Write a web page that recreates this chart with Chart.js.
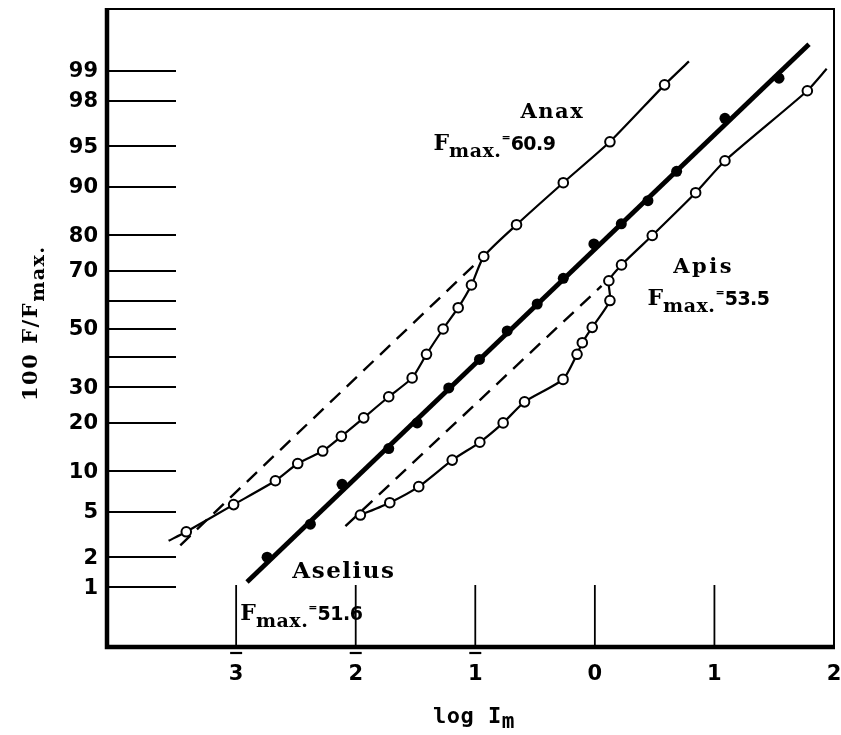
<!DOCTYPE html>
<html>
<head>
<meta charset="utf-8">
<script src="https://cdn.jsdelivr.net/npm/chart.js@4.4.1/dist/chart.umd.min.js"></script>
<style>
  html, body { margin:0; padding:0; background:#fff; }
</style>
</head>
<body>
<canvas id="c" width="841" height="735"></canvas>
<script>
/* ---------- axes ---------- */
const yTicks      = [1, 2, 5, 10, 20, 30, 40, 50, 60, 70, 80, 90, 95, 98, 99];
const yTickLabels = ["1","2","5","10","20","30","","50","","70","80","90","95","98","99"];
const xTicks      = [-3, -2, -1, 0, 1, 2];
const xTickLabels = ["3", "2", "1", "0", "1", "2"];   // negatives get a bar on top
const xTickLines  = [-3, -2, -1, 0, 1];

/* ---------- Anax (open circles) ---------- */
const anaxX = [-3.417,-3.021,-2.672,-2.485,-2.276,-2.120,-1.933,-1.724,-1.528,-1.408,-1.269,-1.143,-1.032,-0.929,-0.655,-0.264,0.126,0.583];
const anaxP = [3.4, 5.7, 8.6, 11.3, 13.6, 16.7, 21.2, 27.1, 33.0, 41.0, 50.0, 57.6, 65.4, 74.3, 82.6, 90.6, 95.4, 98.6];
const anaxEndX = [-3.565, 0.787];
const anaxEndP = [2.83, 99.2];
const anaxDashX = [-3.467, -0.982];
const anaxDashP = [2.58, 72.7];

/* ---------- Asellus (filled circles, fitted line) ---------- */
const aseliusX = [-2.741,-2.379,-2.114,-1.724,-1.486,-1.222,-0.965,-0.733,-0.482,-0.264,-0.008,0.221,0.444,0.684,1.088,1.540];
const aseliusP = [2.0, 3.95, 8.1, 14.1, 19.9, 29.8, 39.2, 49.3, 58.9, 67.6, 77.8, 82.8, 87.6, 92.2, 97.1, 98.8];
const aseliusFitX = [-2.909, 1.791];
const aseliusFitP = [1.14, 99.48];

/* ---------- Apis (open circles) ---------- */
const apisX = [-1.961,-1.715,-1.473,-1.193,-0.962,-0.767,-0.588,-0.266,-0.149,-0.105,-0.022,0.126,0.117,0.223,0.480,0.843,1.088,1.777];
const apisP = [4.7, 5.9, 7.8, 11.9, 15.4, 19.9, 25.6, 32.5, 41.0, 45.1, 50.6, 60.1, 66.8, 71.8, 80.0, 89.0, 93.5, 98.4];
const apisEndX = [1.939];
const apisEndP = [99.04];
const apisDashX = [-2.086, 0.056];
const apisDashP = [3.8, 65.1];

/* ---------- text anchors (data coords, left/baseline) ---------- */
const nameLabels = ["Anax", "Apis", "Aselius"];
const nameX = [-0.622, 0.656, -2.530];
const nameP = [97.1, 69.3, 1.245];
const fmaxValues = ["60.9", "53.5", "51.6"];
const fmaxX = [-1.350, 0.440, -2.965];
const fmaxP = [94.67, 58.6, 0.437];

// probability scale: percent -> normal deviate
function probit(p){
  const a=[-3.969683028665376e+01,2.209460984245205e+02,-2.759285104469687e+02,1.383577518672690e+02,-3.066479806614716e+01,2.506628277459239e+00];
  const b=[-5.447609879822406e+01,1.615858368580409e+02,-1.556989798598866e+02,6.680131188771972e+01,-1.328068115388598e+01];
  const c=[-7.784894002430293e-03,-3.223964580411365e-01,-2.400758277161838e+00,-2.549732539343734e+00,4.374664141464968e+00,2.938163982698783e+00];
  const d=[7.784695709041462e-03,3.224671290700398e-01,2.445134111733793e+00,3.754408661907416e+00];
  const pl = 0.02425;
  if (p < pl){
    const q = Math.sqrt(-2*Math.log(p));
    return (((((c[0]*q+c[1])*q+c[2])*q+c[3])*q+c[4])*q+c[5])/((((d[0]*q+d[1])*q+d[2])*q+d[3])*q+1);
  }
  if (p > 1-pl){
    const q = Math.sqrt(-2*Math.log(1-p));
    return -(((((c[0]*q+c[1])*q+c[2])*q+c[3])*q+c[4])*q+c[5])/((((d[0]*q+d[1])*q+d[2])*q+d[3])*q+1);
  }
  const q = p-0.5, r = q*q;
  return (((((a[0]*r+a[1])*r+a[2])*r+a[3])*r+a[4])*r+a[5])*q/(((((b[0]*r+b[1])*r+b[2])*r+b[3])*r+b[4])*r+1);
}
const z = pct => probit(pct/100);
const pts = (xs, ps) => xs.map((x,i)=>({x:x, y:z(ps[i])}));

const anaxLine = pts([anaxEndX[0], ...anaxX, anaxEndX[1]], [anaxEndP[0], ...anaxP, anaxEndP[1]]);
const apisLine = pts([...apisX, ...apisEndX], [...apisP, ...apisEndP]);

/* ---------- drawing helpers ---------- */
function drawParts(ctx, parts, x, y){
  let cx = x;
  parts.forEach(p=>{
    ctx.font = p.font;
    ctx.letterSpacing = p.ls || "0px";
    ctx.fillText(p.t, cx, y + (p.dy||0));
    cx += ctx.measureText(p.t).width;
  });
  ctx.letterSpacing = "0px";
}

const decor = {
  id: "decor",
  afterDraw(chart){
    const ctx = chart.ctx;
    const xs = chart.scales.x, ys = chart.scales.y;
    const A = chart.chartArea;
    ctx.save();
    ctx.strokeStyle = "#000";
    ctx.fillStyle = "#000";
    ctx.lineCap = "butt";

    // y tick lines (short, inside)
    ctx.lineWidth = 2.2;
    yTicks.forEach(t=>{
      const py = Math.round(ys.getPixelForValue(z(t)));
      ctx.beginPath(); ctx.moveTo(A.left, py); ctx.lineTo(A.left+69, py); ctx.stroke();
    });
    // x tick lines (short, rising from bottom)
    ctx.lineWidth = 1.8;
    xTickLines.forEach(t=>{
      const px = xs.getPixelForValue(t);
      ctx.beginPath(); ctx.moveTo(px, A.bottom); ctx.lineTo(px, A.bottom-62); ctx.stroke();
    });

    // frame
    ctx.lineWidth = 2;
    ctx.beginPath(); ctx.moveTo(A.left, A.top); ctx.lineTo(A.right, A.top); ctx.lineTo(A.right, A.bottom); ctx.stroke();
    ctx.lineWidth = 4.5;
    ctx.beginPath(); ctx.moveTo(A.left, A.top-1); ctx.lineTo(A.left, A.bottom); ctx.lineTo(A.right+1, A.bottom); ctx.stroke();

    // y tick labels
    ctx.font = "bold 21px 'DejaVu Sans'";
    ctx.textAlign = "right";
    ctx.textBaseline = "middle";
    yTicks.forEach((t,i)=>{
      if (!yTickLabels[i]) return;
      ctx.fillText(yTickLabels[i], A.left-9, ys.getPixelForValue(z(t))+1);
    });

    // x tick labels
    ctx.textAlign = "center";
    ctx.textBaseline = "alphabetic";
    ctx.font = "bold 21px 'DejaVu Sans'";
    xTicks.forEach((t,i)=>{
      const px = xs.getPixelForValue(t);
      ctx.fillText(xTickLabels[i], px, A.bottom+33);
      if (t < 0){
        ctx.lineWidth = 2.2;
        ctx.beginPath(); ctx.moveTo(px-6, A.bottom+6); ctx.lineTo(px+6, A.bottom+6); ctx.stroke();
      }
    });

    // axis titles
    ctx.textAlign = "left";
    drawParts(ctx, [
      {t:"log I", font:"bold 22px 'DejaVu Sans Mono'", ls:"0.5px"},
      {t:"m", font:"bold 21px 'DejaVu Sans Mono'", dy:5}
    ], 433, A.bottom+76);

    ctx.save();
    ctx.translate(37, 401);
    ctx.rotate(-Math.PI/2);
    drawParts(ctx, [
      {t:"100 F/F", font:"bold 21px 'DejaVu Serif'", ls:"1.5px"},
      {t:"max.", font:"bold 19px 'DejaVu Serif'", dy:7, ls:"1.5px"}
    ], 0, 0);
    ctx.restore();

    // curve names and F max values
    const nameStyle = {
      "Anax":    {font:"bold 21px 'DejaVu Serif'", ls:"1.5px"},
      "Apis":    {font:"bold 21px 'DejaVu Serif'", ls:"2.5px"},
      "Aselius": {font:"bold 23px 'DejaVu Serif'", ls:"1.5px"}
    };
    nameLabels.forEach((n,i)=>{
      drawParts(ctx, [{t:n, font:nameStyle[n].font, ls:nameStyle[n].ls}],
        xs.getPixelForValue(nameX[i]), ys.getPixelForValue(z(nameP[i])));
    });
    fmaxValues.forEach((v,i)=>{
      drawParts(ctx, [
        {t:"F", font:"bold 22px 'DejaVu Serif'"},
        {t:"max.", font:"bold 19px 'DejaVu Serif'", dy:7, ls:"0.5px"},
        {t:"=", font:"bold 11px 'DejaVu Sans'", dy:-9},
        {t:v, font:"bold 19px 'DejaVu Sans'", ls:"-0.5px"}
      ], xs.getPixelForValue(fmaxX[i]), ys.getPixelForValue(z(fmaxP[i])));
    });
    ctx.restore();
  }
};

new Chart(document.getElementById("c"), {
  type: "scatter",
  data: {
    datasets: [
      { label:"Anax", data: pts(anaxX, anaxP), showLine:false, order:0,
        pointRadius:4.8, pointBorderWidth:2, pointBackgroundColor:"#fff", pointBorderColor:"#000" },
      { label:"Apis", data: pts(apisX, apisP), showLine:false, order:0,
        pointRadius:4.8, pointBorderWidth:2, pointBackgroundColor:"#fff", pointBorderColor:"#000" },
      { label:"Aselius", data: pts(aseliusX, aseliusP), showLine:false, order:0,
        pointRadius:5.5, pointBorderWidth:0, pointBackgroundColor:"#000" },
      { label:"Anax curve", data: anaxLine, showLine:true, order:1, tension:0.2,
        borderColor:"#000", borderWidth:2.2, pointRadius:0 },
      { label:"Apis curve", data: apisLine, showLine:true, order:1, tension:0.2,
        borderColor:"#000", borderWidth:2.2, pointRadius:0 },
      { label:"Aselius fit", data: pts(aseliusFitX, aseliusFitP), showLine:true, order:1,
        borderColor:"#000", borderWidth:4.8, pointRadius:0 },
      { label:"Anax dashed", data: pts(anaxDashX, anaxDashP), showLine:true, order:2,
        borderColor:"#000", borderWidth:2.4, borderDash:[14,9], pointRadius:0 },
      { label:"Apis dashed", data: pts(apisDashX, apisDashP), showLine:true, order:2,
        borderColor:"#000", borderWidth:2.4, borderDash:[14,9], pointRadius:0 }
    ]
  },
  options: {
    responsive: false,
    animation: false,
    layout: { padding: { left:107, right:7, top:9, bottom:88 } },
    plugins: { legend:{ display:false }, tooltip:{ enabled:false } },
    scales: {
      x: { type:"linear", min:-4.08, max:2.0, display:false },
      y: { type:"linear", min:-2.862, max:2.88, display:false }
    }
  },
  plugins: [decor]
});
</script>
</body>
</html>
